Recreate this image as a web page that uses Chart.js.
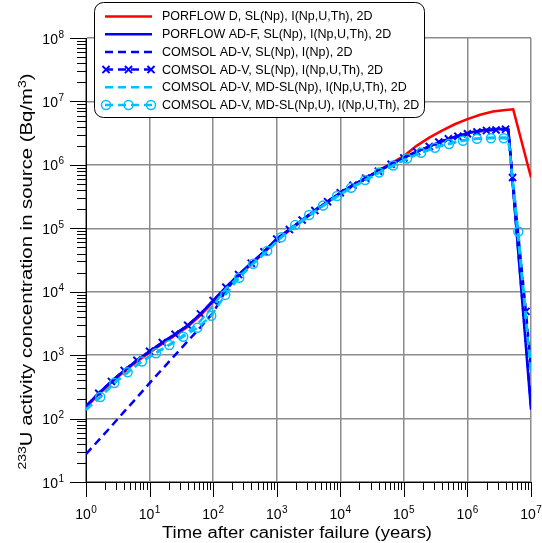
<!DOCTYPE html>
<html>
<head>
<meta charset="utf-8">
<script src="https://cdn.jsdelivr.net/npm/chart.js@4/dist/chart.umd.min.js"></script>
<style>
  body { margin: 0; background: #fff; }
</style>
</head>
<body>
<canvas id="chart" width="542" height="543"></canvas>
<script>
// axis decades and tick label exponents
const xDecades = [1, 10, 100, 1e3, 1e4, 1e5, 1e6, 1e7];
const xTickExp = ['0', '1', '2', '3', '4', '5', '6', '7'];
const yDecades = [10, 100, 1e3, 1e4, 1e5, 1e6, 1e7, 1e8];
const yTickExp = ['1', '2', '3', '4', '5', '6', '7', '8'];

// time after canister failure (years), shared by several curves
const tMain = [1, 1.585, 2.512, 3.981, 6.31, 10, 15.85, 25.12, 39.81, 63.1,
  100, 158.5, 251.2, 398.1, 631, 1000, 1585, 2512, 3981, 6310,
  1e4, 15850, 25120, 39810, 63100, 1e5, 158500, 251200, 398100, 631000,
  1e6, 1585000, 2512000, 3981000, 4400000, 1e7];

// PORFLOW D, SL(Np), I(Np,U,Th), 2D
const tPorflowD = [1, 1.585, 2.512, 3.981, 6.31, 10, 15.85, 25.12, 39.81, 63.1,
  100, 158.5, 251.2, 398.1, 631, 1000, 1585, 2512, 3981, 6310,
  1e4, 15850, 25120, 39810, 63100, 1e5, 158500, 251200, 398100, 631000,
  1e6, 1585000, 2512000, 3981000, 5248000, 1e7];
const cPorflowD = [150, 240, 368, 550, 795, 1095, 1510, 2040, 2810, 4250,
  6900, 11200, 17800, 27000, 41000, 65000, 92000, 131000, 186000, 258000,
  358000, 475000, 620000, 810000, 1060000, 1380000, 1995000, 2692000, 3467000, 4365000,
  5248000, 6166000, 6918000, 7328000, 7499000, 631000];

// PORFLOW AD-F, SL(Np), I(Np,U,Th), 2D
const cPorflowADF = [158, 251, 385, 575, 832, 1148, 1585, 2138, 2951, 4467,
  7244, 11750, 18620, 28180, 42660, 67610, 95500, 134900, 190500, 263000,
  363100, 478600, 616600, 794300, 1023000, 1288000, 1622000, 1950000, 2344000, 2754000,
  3162000, 3467000, 3631000, 3715000, 3600000, 138];

// COMSOL AD-V, SL(Np), I(Np), 2D
const cComsolNp = [27.5, 45.7, 75.9, 128.8, 213.8, 363, 602.6, 1000, 1660, 2754,
  4677, 10470, 18200, 28180, 42660, 67610, 95500, 134900, 190500, 263000,
  363100, 478600, 616600, 794300, 1023000, 1288000, 1622000, 1950000, 2344000, 2754000,
  3162000, 3467000, 3631000, 3715000, 3600000, 160];

// COMSOL AD-V, SL(Np), I(Np,U,Th), 2D (crosses)
const tComsolSL = [1, 1.585, 2.512, 3.981, 6.31, 10, 15.85, 25.12, 39.81, 63.1,
  100, 158.5, 251.2, 398.1, 631, 1000, 1585, 2512, 3981, 6310,
  1e4, 15850, 25120, 39810, 63100, 1e5, 158500, 251200, 354800, 501200,
  707900, 1e6, 1413000, 1995000, 2818000, 3981000, 4400000, 5129000, 8318000, 1e7];
const cComsolSL = [158, 251, 385, 575, 832, 1148, 1585, 2138, 2951, 4467,
  7244, 11750, 18620, 28180, 42660, 67610, 95500, 134900, 190500, 263000,
  363100, 478600, 616600, 794300, 1023000, 1288000, 1622000, 1950000, 2291000, 2570000,
  2818000, 3090000, 3311000, 3467000, 3548000, 3631000, 3600000, 631000, 4898, 631];

// COMSOL AD-V, MD-SL(Np), I(Np,U,Th), 2D
const cComsolMD = [138, 209, 331, 490, 708, 955, 1259, 1660, 2291, 3467,
  6026, 11220, 16980, 26300, 39810, 61660, 91200, 128800, 182000, 251200,
  338800, 446700, 575400, 741300, 933300, 1175000, 1445000, 1738000, 2042000, 2291000,
  2512000, 2630000, 2692000, 2692000, 2630000, 550];

// COMSOL AD-V, MD-SL(Np,U), I(Np,U,Th), 2D (circles)
const tComsolMDU = [1, 1.679, 2.786, 4.519, 7.586, 12.59, 20.42, 33.88, 56.23, 93.33,
  154.9, 257, 426.6, 707.9, 1175, 1950, 3236, 5370, 8913, 14790,
  24550, 40740, 67610, 112200, 186200, 309000, 512900, 851100, 1413000, 2344000,
  3715000, 4400000, 6310000, 1e7];
const cComsolMDU = [138, 219, 363, 537, 794, 1072, 1445, 1950, 2692, 4169,
  8913, 16600, 27540, 43650, 72440, 112200, 162200, 229100, 323600, 436500,
  575400, 758600, 977200, 1259000, 1549000, 1862000, 2138000, 2399000, 2570000, 2630000,
  2630000, 2570000, 89130, 550];

// points drawn without a marker (line ends and the break point)
const noMarker = [1, 4400000, 1e7];

const FONT = "'Liberation Sans', Arial, sans-serif";
const RED = '#ff0000';
const BLUE = '#0000ff';
const CYAN = '#00c0ff';

function pairs(xs, ys) {
  return xs.map((x, i) => ({ x: x, y: ys[i] }));
}

function markerRadius(r) {
  return ctx => (ctx.raw && noMarker.includes(ctx.raw.x)) ? 0 : r;
}

const datasets = [
  {
    label: 'PORFLOW D, SL(Np), I(Np,U,Th), 2D',
    data: pairs(tPorflowD, cPorflowD),
    borderColor: RED, borderWidth: 2.5, pointRadius: 0, order: 6
  },
  {
    label: 'PORFLOW AD-F, SL(Np), I(Np,U,Th), 2D',
    data: pairs(tMain, cPorflowADF),
    borderColor: BLUE, borderWidth: 2.5, pointRadius: 0, order: 5
  },
  {
    label: 'COMSOL AD-V, SL(Np), I(Np), 2D',
    data: pairs(tMain, cComsolNp),
    borderColor: BLUE, borderWidth: 2.5, borderDash: [8, 5], pointRadius: 0, order: 4
  },
  {
    label: 'COMSOL AD-V, SL(Np), I(Np,U,Th), 2D',
    data: pairs(tComsolSL, cComsolSL),
    borderColor: BLUE, borderWidth: 2.5, borderDash: [8, 5],
    pointStyle: 'crossRot', pointRadius: markerRadius(5),
    pointBorderColor: BLUE, pointBorderWidth: 2, order: 3
  },
  {
    label: 'COMSOL AD-V, MD-SL(Np), I(Np,U,Th), 2D',
    data: pairs(tMain, cComsolMD),
    borderColor: CYAN, borderWidth: 2.5, borderDash: [8, 5], pointRadius: 0, order: 2
  },
  {
    label: 'COMSOL AD-V, MD-SL(Np,U), I(Np,U,Th), 2D',
    data: pairs(tComsolMDU, cComsolMDU),
    borderColor: CYAN, borderWidth: 2.5, borderDash: [8, 5],
    pointStyle: 'circle', pointRadius: markerRadius(4.5),
    pointBorderColor: CYAN, pointBackgroundColor: 'rgba(255,255,255,0)',
    pointBorderWidth: 1.5, order: 1
  }
];

function powLabel(ctx, base, exp, x, y, align) {
  ctx.font = '14px ' + FONT;
  const wb = ctx.measureText(base).width;
  ctx.font = '10px ' + FONT;
  const we = ctx.measureText(exp).width;
  const w = wb + we + 0.5;
  const x0 = align === 'center' ? x - w / 2 : x - w;
  ctx.textAlign = 'left';
  ctx.textBaseline = 'alphabetic';
  ctx.font = '14px ' + FONT;
  ctx.fillText(base, x0, y);
  ctx.font = '10px ' + FONT;
  ctx.fillText(exp, x0 + wb + 0.5, y - 6);
}

// text drawn wide, as in the original figure
function wideText(ctx, parts, x, y, width) {
  let total = 0;
  parts.forEach(p => { ctx.font = p[1] + 'px ' + FONT; total += ctx.measureText(p[0]).width; });
  const k = width / total;
  ctx.save();
  ctx.translate(x, y);
  ctx.scale(k, 1);
  ctx.textAlign = 'left';
  ctx.textBaseline = 'alphabetic';
  let cx = -total / 2;
  parts.forEach(p => {
    ctx.font = p[1] + 'px ' + FONT;
    ctx.fillText(p[0], cx, p[2]);
    cx += ctx.measureText(p[0]).width;
  });
  ctx.restore();
}

function drawMarker(ctx, style, x, y, r) {
  ctx.beginPath();
  if (style === 'crossRot') {
    ctx.moveTo(x - r * 0.707, y - r * 0.707); ctx.lineTo(x + r * 0.707, y + r * 0.707);
    ctx.moveTo(x - r * 0.707, y + r * 0.707); ctx.lineTo(x + r * 0.707, y - r * 0.707);
  } else {
    ctx.arc(x, y, r, 0, Math.PI * 2);
  }
  ctx.stroke();
}

const decor = {
  id: 'decor',
  afterDraw(chart) {
    const ctx = chart.ctx;
    const xs = chart.scales.x;
    const ys = chart.scales.y;
    const area = chart.chartArea;
    ctx.save();
    ctx.strokeStyle = '#000';
    ctx.lineWidth = 1;
    ctx.fillStyle = '#000';

    // major and minor ticks, outside the axes
    for (let i = 0; i < xDecades.length; i++) {
      for (let m = 1; m <= 9; m++) {
        const v = xDecades[i] * m;
        if (v > xDecades[xDecades.length - 1]) break;
        const px = Math.round(xs.getPixelForValue(v)) + 0.5;
        ctx.beginPath();
        ctx.moveTo(px, area.bottom);
        ctx.lineTo(px, area.bottom + (m === 1 ? 15 : 8));
        ctx.stroke();
      }
      powLabel(ctx, '10', xTickExp[i], xs.getPixelForValue(xDecades[i]), 519, 'center');
    }
    for (let i = 0; i < yDecades.length; i++) {
      for (let m = 1; m <= 9; m++) {
        const v = yDecades[i] * m;
        if (v > yDecades[yDecades.length - 1]) break;
        const py = Math.round(ys.getPixelForValue(v)) + 0.5;
        ctx.beginPath();
        ctx.moveTo(area.left, py);
        ctx.lineTo(area.left - (m === 1 ? 16 : 9), py);
        ctx.stroke();
      }
      powLabel(ctx, '10', yTickExp[i], 64, ys.getPixelForValue(yDecades[i]) + 5.5, 'right');
    }

    // axis titles
    wideText(ctx, [['Time after canister failure (years)', 16, 0]], 297, 538, 270);
    ctx.save();
    ctx.translate(32, 271.5);
    ctx.rotate(-Math.PI / 2);
    wideText(ctx, [['233', 11, -6.5], ['U activity concentration in source (Bq/m', 16, 0], ['3', 11, -6.5], [')', 16, 0]], 0, 0, 396);
    ctx.restore();

    // legend box
    const bx = 94.5, by = 2.5, bw = 330, bh = 115, r = 9;
    ctx.beginPath();
    ctx.moveTo(bx + r, by);
    ctx.arcTo(bx + bw, by, bx + bw, by + bh, r);
    ctx.arcTo(bx + bw, by + bh, bx, by + bh, r);
    ctx.arcTo(bx, by + bh, bx, by, r);
    ctx.arcTo(bx, by, bx + bw, by, r);
    ctx.closePath();
    ctx.fillStyle = '#fff';
    ctx.fill();
    ctx.strokeStyle = '#000';
    ctx.lineWidth = 1;
    ctx.stroke();

    chart.data.datasets.forEach((ds, i) => {
      const y = 16.5 + i * 17.7;
      ctx.strokeStyle = ds.borderColor;
      ctx.lineWidth = ds.borderWidth;
      ctx.setLineDash(ds.borderDash || []);
      ctx.beginPath();
      ctx.moveTo(105, y);
      ctx.lineTo(152, y);
      ctx.stroke();
      ctx.setLineDash([]);
      if (ds.pointStyle) {
        ctx.lineWidth = ds.pointBorderWidth;
        [106, 128.5, 151].forEach(mx => drawMarker(ctx, ds.pointStyle, mx, y, ds.pointStyle === 'circle' ? 4.5 : 5));
      }
      ctx.fillStyle = '#000';
      ctx.font = '12.5px ' + FONT;
      ctx.textAlign = 'left';
      ctx.textBaseline = 'middle';
      ctx.fillText(ds.label, 162, y + 0.5);
    });
    ctx.restore();
  }
};

new Chart(document.getElementById('chart').getContext('2d'), {
  type: 'line',
  data: { datasets: datasets },
  options: {
    responsive: false,
    animation: false,
    layout: { padding: { left: 0, right: 11, top: 38, bottom: 0 } },
    elements: { line: { tension: 0, fill: false } },
    scales: {
      x: {
        type: 'logarithmic',
        min: 1,
        max: 1e7,
        afterBuildTicks: s => { s.ticks = xDecades.map(v => ({ value: v })); },
        afterFit: s => { s.height = 61; },
        ticks: { display: false },
        grid: { color: '#8c8c8c', lineWidth: 1.5, drawTicks: false },
        border: { color: '#000', width: 1 }
      },
      y: {
        type: 'logarithmic',
        min: 10,
        max: 1e8,
        afterBuildTicks: s => { s.ticks = yDecades.map(v => ({ value: v })); },
        afterFit: s => { s.width = 86; },
        ticks: { display: false },
        grid: { color: '#8c8c8c', lineWidth: 1.5, drawTicks: false },
        border: { color: '#000', width: 1 }
      }
    },
    plugins: {
      legend: { display: false },
      tooltip: { enabled: false }
    }
  },
  plugins: [decor]
});
</script>
</body>
</html>
